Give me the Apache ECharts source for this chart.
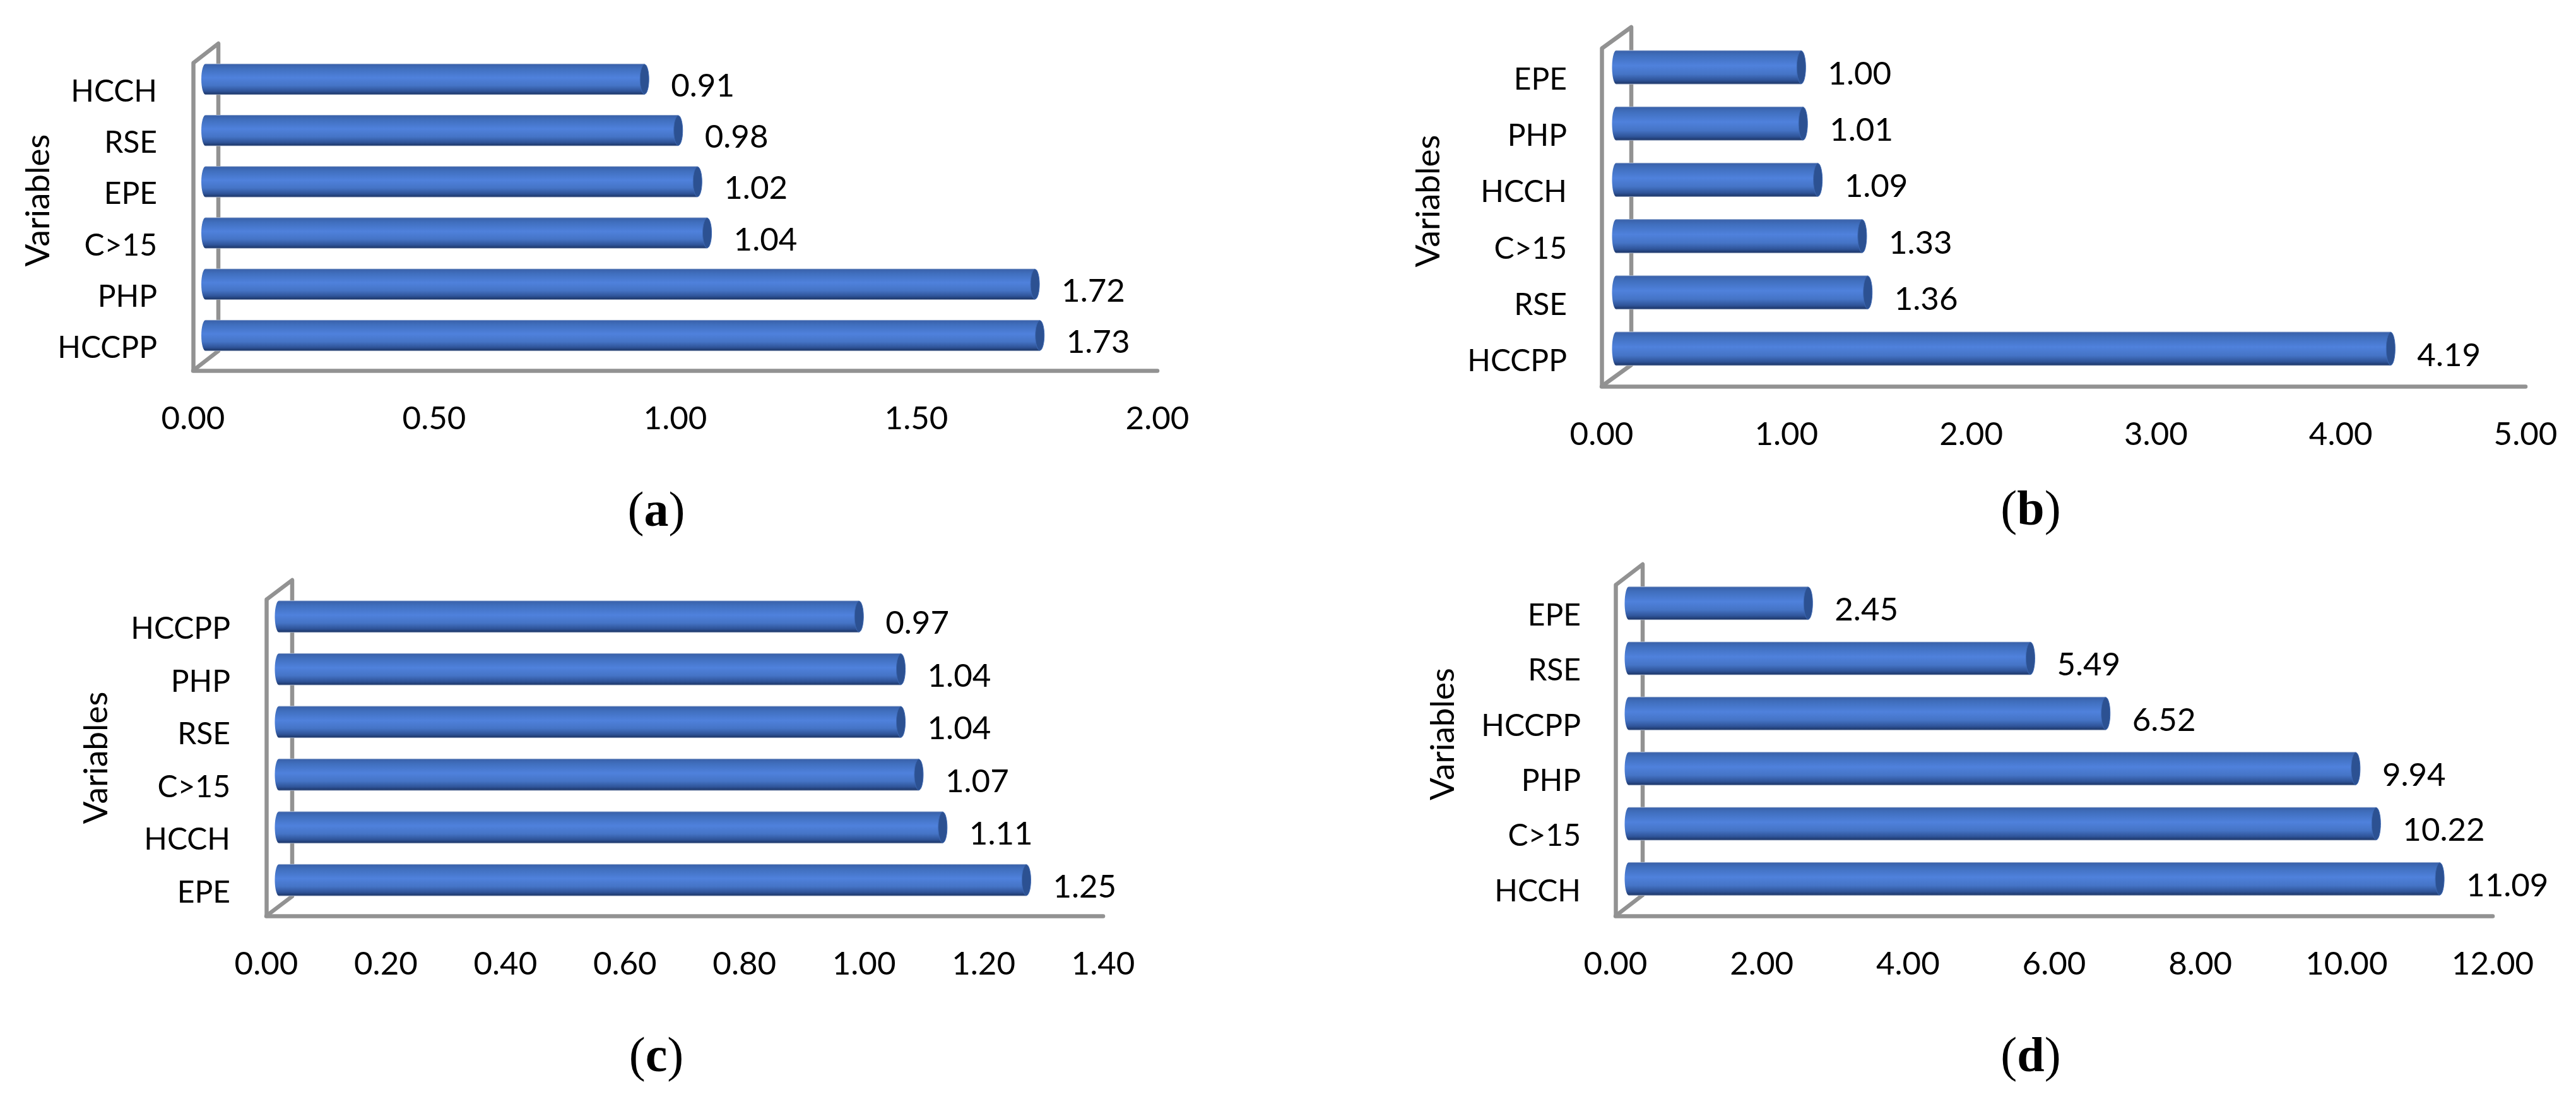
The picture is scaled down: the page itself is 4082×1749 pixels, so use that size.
<!DOCTYPE html>
<html>
<head>
<meta charset="utf-8">
<style>html,body{margin:0;padding:0;background:#fff}#c{width:4082px;height:1749px}</style>
<script src="https://cdn.jsdelivr.net/npm/echarts@6/dist/echarts.min.js"></script>
</head>
<body>
<div id="c"></div>
<script>
// ---- data (top to bottom, as printed) ----
const categoriesA = ['HCCH', 'RSE', 'EPE', 'C>15', 'PHP', 'HCCPP'];
const valuesA     = [0.91, 0.98, 1.02, 1.04, 1.72, 1.73];
const ticksA      = [0, 0.5, 1, 1.5, 2];

const categoriesB = ['EPE', 'PHP', 'HCCH', 'C>15', 'RSE', 'HCCPP'];
const valuesB     = [1.00, 1.01, 1.09, 1.33, 1.36, 4.19];
const ticksB      = [0, 1, 2, 3, 4, 5];

const categoriesC = ['HCCPP', 'PHP', 'RSE', 'C>15', 'HCCH', 'EPE'];
const valuesC     = [0.97, 1.04, 1.04, 1.07, 1.11, 1.25];
const ticksC      = [0, 0.2, 0.4, 0.6, 0.8, 1.0, 1.2, 1.4];

const categoriesD = ['EPE', 'RSE', 'HCCPP', 'PHP', 'C>15', 'HCCH'];
const valuesD     = [2.45, 5.49, 6.52, 9.94, 10.22, 11.09];
const ticksD      = [0, 2, 4, 6, 8, 10, 12];

const axisName = 'Variables';

// ---- layout and style ----
const FONT = 'Lato';
const FS = 51;
const FS_CAT = 48;
const panels = [
  {cats: categoriesA, vals: valuesA, ticks: ticksA, tag: 'a', box: [306, 100, 1528, 487], depth: [40, 31], catGap: 57, nameGap: 209, namePad: 52, cap: [1035, 815]},
  {cats: categoriesB, vals: valuesB, ticks: ticksB, tag: 'b', box: [2538, 77, 1464, 535], depth: [47, 34], catGap: 55, nameGap: 248, namePad: 52, cap: [3213, 813]},
  {cats: categoriesC, vals: valuesC, ticks: ticksC, tag: 'c', box: [422, 950, 1326, 501], depth: [41, 31], catGap: 57, nameGap: 243, namePad: 0, cap: [1035, 1679]},
  {cats: categoriesD, vals: valuesD, ticks: ticksD, tag: 'd', box: [2560, 927, 1390, 524], depth: [43, 33], catGap: 55, nameGap: 247, namePad: 52, cap: [3213, 1679]}
];
const GREY = '#929292';
const LINE = 6.5;
const RX = 7;
const bodyFill = () => new echarts.graphic.LinearGradient(0, 0, 0, 1, [
  {offset: 0, color: '#c3cee0'}, {offset: 0.03, color: '#3a62ab'}, {offset: 0.16, color: '#406fbe'},
  {offset: 0.45, color: '#4f81dc'}, {offset: 0.7, color: '#4574c6'}, {offset: 0.88, color: '#2f5499'},
  {offset: 0.97, color: '#1f3a6e'}, {offset: 1, color: '#b8c2d6'}
]);

const grid = [], xAxis = [], yAxis = [], series = [], title = [];
panels.forEach((p, i) => {
  const [left, top, width, height] = p.box;
  const [dx, dy] = p.depth;
  grid.push({left, top, width, height, containLabel: false});
  xAxis.push({
    type: 'value', gridIndex: i,
    min: p.ticks[0], max: p.ticks[p.ticks.length - 1], interval: p.ticks[1] - p.ticks[0],
    splitLine: {show: false}, axisTick: {show: false},
    axisLine: {show: true, onZero: false, lineStyle: {color: GREY, width: LINE}},
    axisLabel: {show: true, margin: 51, fontFamily: FONT, fontSize: FS, color: '#000',
      showMinLabel: true, showMaxLabel: true, formatter: v => v.toFixed(2)}
  });
  yAxis.push({
    type: 'category', gridIndex: i, inverse: true, data: p.cats,
    splitLine: {show: false}, axisTick: {show: false},
    axisLine: {show: true, onZero: false, lineStyle: {color: GREY, width: LINE}},
    axisLabel: {show: true, margin: p.catGap, fontFamily: FONT, fontSize: FS_CAT, color: '#000', verticalAlign: 'top', lineHeight: 10},
    name: axisName, nameLocation: 'middle', nameRotate: 90, nameGap: p.nameGap,
    nameTextStyle: {fontFamily: FONT, fontSize: 53, color: '#000', padding: [0, 0, 0, p.namePad]}
  });
  // side wall and floor edge of the 3D frame
  series.push({
    type: 'custom', xAxisIndex: i, yAxisIndex: i, z: 1, silent: true,
    data: [[0, 0]],
    renderItem: (params) => {
      const c = params.coordSys, b = c.y + c.height, l = c.x;
      return {
        type: 'polyline',
        shape: {points: [[l, c.y], [l + dx, c.y - dy], [l + dx, b - dy], [l, b]]},
        style: {stroke: GREY, lineWidth: LINE, fill: null, lineJoin: 'round'}
      };
    }
  });
  // cylinders
  series.push({
    type: 'custom', xAxisIndex: i, yAxisIndex: i, z: 3, silent: true,
    encode: {x: 0, y: 1},
    data: p.vals.map((v, k) => [v, k]),
    renderItem: (params, api) => {
      const v = api.value(0), k = api.value(1);
      const pt = api.coord([v, k]), zero = api.coord([0, k]);
      const h = api.size([0, 1])[1] * 0.585;
      const cy = pt[1] - 15, x0 = zero[0] + dx / 2, x1 = pt[0] + dx / 2;
      return {
        type: 'group',
        children: [
          {type: 'ellipse', shape: {cx: x0, cy, rx: RX, ry: h / 2 + 1}, style: {fill: bodyFill()}},
          {type: 'rect', shape: {x: x0, y: cy - h / 2 - 1, width: x1 - x0, height: h + 2}, style: {fill: bodyFill()}},
          {type: 'ellipse', shape: {cx: x1, cy, rx: RX, ry: h / 2}, style: {fill: '#2c5192', stroke: '#3c68b4', lineWidth: 1}},
          {type: 'text', style: {text: v.toFixed(2), x: x1 + RX + 35, y: cy + 11, fontFamily: FONT, fontSize: FS,
            fill: '#000', align: 'left', verticalAlign: 'middle'}}
        ]
      };
    }
  });
  title.push({
    text: '{n|(}{b|' + p.tag + '}{n|)}',
    left: p.cap[0], top: p.cap[1] - 46, textAlign: 'center',
    textStyle: {fontWeight: 'normal', rich: {
      n: {fontFamily: 'Liberation Serif', fontSize: 78, fontWeight: 'normal', color: '#000'},
      b: {fontFamily: 'Liberation Serif', fontSize: 78, fontWeight: 'bold', color: '#000'}
    }}
  });
});

const chart = echarts.init(document.getElementById('c'), null, {width: 4082, height: 1749});
chart.setOption({backgroundColor: '#fff', animation: false, grid, xAxis, yAxis, series, title});
</script>
</body>
</html>
